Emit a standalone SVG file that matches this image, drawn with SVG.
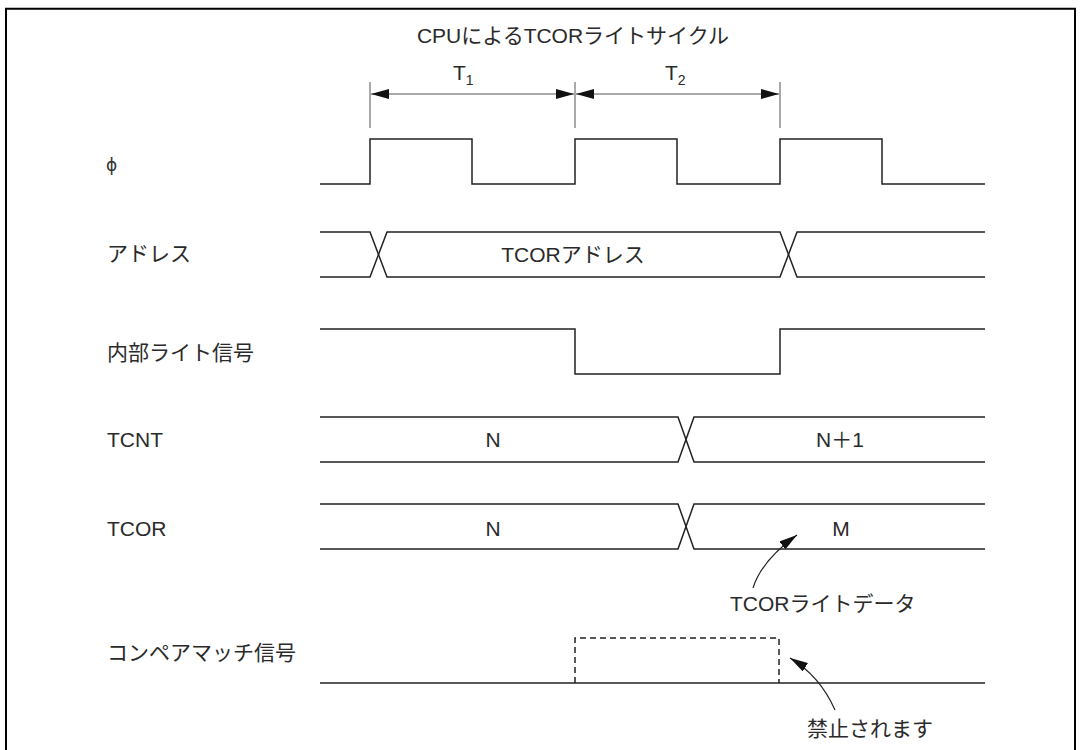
<svg xmlns="http://www.w3.org/2000/svg" width="1082" height="750" viewBox="0 0 1082 750">
<style>
.t{font-family:"Liberation Sans","Noto Sans CJK JP",sans-serif;font-size:21px;fill:#2a2a2a}
.sig{fill:none;stroke:#222;stroke-width:1.5}
.tick{fill:none;stroke:#555;stroke-width:1}
.dash{fill:none;stroke:#222;stroke-width:1.5;stroke-dasharray:6 4}
.arr{fill:none;stroke:#222;stroke-width:1.2}
</style>
<defs>
<marker id="ah" markerUnits="userSpaceOnUse" markerWidth="19" markerHeight="10" refX="18" refY="5" orient="auto-start-reverse">
<path d="M0,0 L18,5 L0,10 Z" fill="#111"/>
</marker>
</defs>
<rect width="1082" height="750" fill="#fff"/>
<path d="M6,750 V8.7 H1075 V750" fill="none" stroke="#000" stroke-width="2"/>

<g id="title">
<text class="t" x="573" y="43" text-anchor="middle">CPUによるTCORライトサイクル</text>
<text class="t" x="453" y="80">T<tspan font-size="14" dy="5">1</tspan></text>
<text class="t" x="665" y="80">T<tspan font-size="14" dy="5">2</tspan></text>
</g>

<g id="connectors">
<path class="tick" d="M370,82 V128 M575,82 V128 M780,82 V128"/>
<path class="tick" d="M371,94 H574" marker-start="url(#ah)" marker-end="url(#ah)" stroke="#222"/>
<path class="tick" d="M576,94 H779" marker-start="url(#ah)" marker-end="url(#ah)" stroke="#222"/>
<path class="arr" d="M753,588 Q762,560 797,535" marker-end="url(#ah)"/>
<path class="arr" d="M835,710 Q820,676 790,658" marker-end="url(#ah)"/>
</g>

<g id="phi">
<text x="106" y="171" font-family="'DejaVu Sans',sans-serif" font-size="17" fill="#333">ϕ</text>
<path class="sig" d="M320,184 H370 V139 H472 V184 H575 V139 H677 V184 H780 V139 H882 V184 H985"/>
</g>

<g id="address">
<text class="t" x="107" y="261">アドレス</text>
<path class="sig" d="M320,232 H370 L387,277 H780 L797,232 H985"/>
<path class="sig" d="M320,277 H370 L387,232 H780 L797,277 H985"/>
<text class="t" x="573" y="262" text-anchor="middle">TCORアドレス</text>
</g>

<g id="write">
<text class="t" x="107" y="360">内部ライト信号</text>
<path class="sig" d="M320,329 H575 V374 H780 V329 H985"/>
</g>

<g id="tcnt">
<text class="t" x="107" y="447">TCNT</text>
<path class="sig" d="M320,417 H678 L694,462 H985"/>
<path class="sig" d="M320,462 H678 L694,417 H985"/>
<text class="t" x="493" y="447" text-anchor="middle">N</text>
<text class="t" x="840" y="447" text-anchor="middle">N＋1</text>
</g>

<g id="tcor">
<text class="t" x="107" y="536">TCOR</text>
<path class="sig" d="M320,504 H678 L694,549 H985"/>
<path class="sig" d="M320,549 H678 L694,504 H985"/>
<text class="t" x="493" y="536" text-anchor="middle">N</text>
<text class="t" x="841" y="536" text-anchor="middle">M</text>
<text class="t" x="730" y="611">TCORライトデータ</text>
</g>

<g id="compare">
<text class="t" x="107" y="660">コンペアマッチ信号</text>
<path class="sig" d="M320,683 H985"/>
<path class="dash" d="M575,683 V638 H779 V683"/>
<text class="t" x="807" y="736">禁止されます</text>
</g>
</svg>
